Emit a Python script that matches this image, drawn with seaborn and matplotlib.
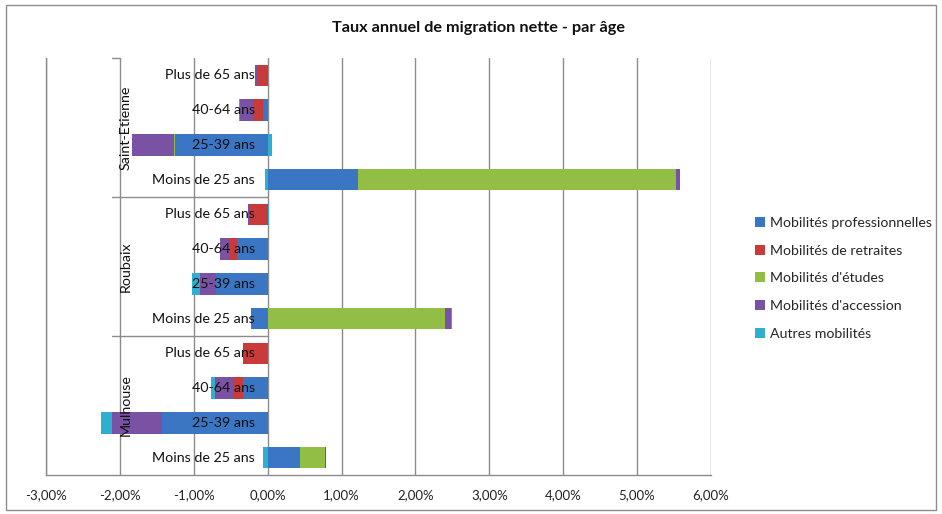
import numpy as np
import pandas as pd
import matplotlib
matplotlib.use("Agg")
import matplotlib.pyplot as plt
import seaborn as sns
from matplotlib.patches import Patch, Rectangle
from matplotlib.ticker import FuncFormatter

# ---------------- data (annual net migration rate, %) ----------------
villes = ["Saint-Etienne", "Roubaix", "Mulhouse"]
ages = ["Plus de 65 ans", "40-64 ans", "25-39 ans", "Moins de 25 ans"]

series_names = ["Mobilités professionnelles", "Mobilités de retraites",
                "Mobilités d'études", "Mobilités d'accession", "Autres mobilités"]

# order: Saint-Etienne (4 ages), Roubaix (4 ages), Mulhouse (4 ages)
professionnelles = [0.00, -0.06, -1.25, 1.22, 0.00, -0.41, -0.70, -0.22, -0.01, -0.33, -1.43, 0.44]
retraites = [-0.15, -0.135, 0.00, 0.00, -0.25, -0.11, 0.00, 0.00, -0.32, -0.14, 0.00, 0.00]
etudes = [0.00, 0.00, -0.02, 4.31, 0.00, 0.00, 0.00, 2.40, 0.00, 0.00, 0.00, 0.34]
accession = [-0.02, -0.18, -0.57, 0.045, -0.01, -0.12, -0.22, 0.08, -0.01, -0.24, -0.68, 0.01]
autres = [0.00, -0.01, 0.06, -0.03, 0.02, -0.01, -0.10, 0.01, 0.00, -0.06, -0.14, -0.06]

x_ticks = [-3, -2, -1, 0, 1, 2, 3, 4, 5, 6]

colors = ["#3A76C4", "#C93A3A", "#93BE45", "#7A52A3", "#2FAFD0"]

# ---------------- build table ----------------
keys = [f"{v}|{a}" for v in villes for a in ages]
values = np.array([professionnelles, retraites, etudes, accession, autres])
pos_cum = np.cumsum(np.clip(values, 0, None), axis=0)
neg_cum = np.cumsum(np.clip(values, None, 0), axis=0)

sns.set_theme(style="white")
plt.rcParams["font.family"] = ["Lato", "DejaVu Sans"]

W, H = 942, 514
fig = plt.figure(figsize=(W / 100, H / 100), dpi=100)
ax_l, ax_r, ax_t, ax_b = 46, 711, 58, 475
ax = fig.add_axes([ax_l / W, (H - ax_b) / H, (ax_r - ax_l) / W, (ax_b - ax_t) / H])

# stacked bars: draw outermost cumulative first so inner segments cover them
for k in range(len(series_names) - 1, -1, -1):
    for cum in (pos_cum[k], neg_cum[k]):
        df = pd.DataFrame({"cat": keys, "val": cum})
        sns.barplot(data=df, x="val", y="cat", orient="h", order=keys,
                    color=colors[k], saturation=1, width=0.62, errorbar=None,
                    ax=ax, zorder=3, linewidth=0)

ax.set_xlim(-3, 6)
ax.set_ylim(len(keys) - 0.5, -0.5)
ax.set_xticks(x_ticks)
ax.xaxis.set_major_formatter(FuncFormatter(lambda v, p: f"{v:.2f}%".replace(".", ",")))
ax.set_xlabel("")
ax.set_ylabel("")
ax.set_yticks([])
ax.grid(axis="x", color="#8C8C8C", linewidth=1, zorder=0)
ax.set_axisbelow(True)
for s in ["top", "right"]:
    ax.spines[s].set_visible(False)
for s in ["left", "bottom"]:
    ax.spines[s].set_color("#8C8C8C")
    ax.spines[s].set_linewidth(1)
ax.tick_params(axis="x", length=0, pad=10, labelsize=9.5, labelcolor="#222222")

# category labels (age) drawn next to the zero axis
for i, k in enumerate(keys):
    age = k.split("|")[1]
    ax.annotate(age, xy=(0, i), xytext=(-13, 0), textcoords="offset pixels",
                ha="right", va="center", fontsize=10.3, color="#111111", zorder=6)

# city labels, rotated
for j, v in enumerate(villes):
    ax.text(-1.92, j * 4 + 1.5, v, rotation=90, ha="center", va="center",
            fontsize=10.3, color="#111111", zorder=6)

# group separators of the multi-level category axis
x_sep = (112 - 267.7) / 74
for yb in [3.5, 7.5]:
    ax.plot([x_sep, 0], [yb, yb], color="#8C8C8C", linewidth=1, zorder=1, clip_on=False)
ax.plot([x_sep, -2], [-0.5, -0.5], color="#8C8C8C", linewidth=1, zorder=1, clip_on=False)

# title
fig.text(479 / W, 1 - 28 / H, "Taux annuel de migration nette - par âge",
         ha="center", va="center", fontsize=11.7, fontweight="bold", color="#111111")

# legend
handles = [Patch(facecolor=c, edgecolor="none") for c in colors]
fig.legend(handles, series_names, loc="upper left",
           bbox_to_anchor=(749 / W, 1 - 211 / H), frameon=False,
           fontsize=10.2, handlelength=0.7, handleheight=0.7,
           handletextpad=0.4, labelspacing=1.12, borderaxespad=0)

# outer chart border
fig.patches.append(Rectangle((6 / W, 4 / H), 930 / W, 505 / H, transform=fig.transFigure,
                             fill=False, edgecolor="#8C8C8C", linewidth=1))

fig.savefig("out.png", dpi=100)
